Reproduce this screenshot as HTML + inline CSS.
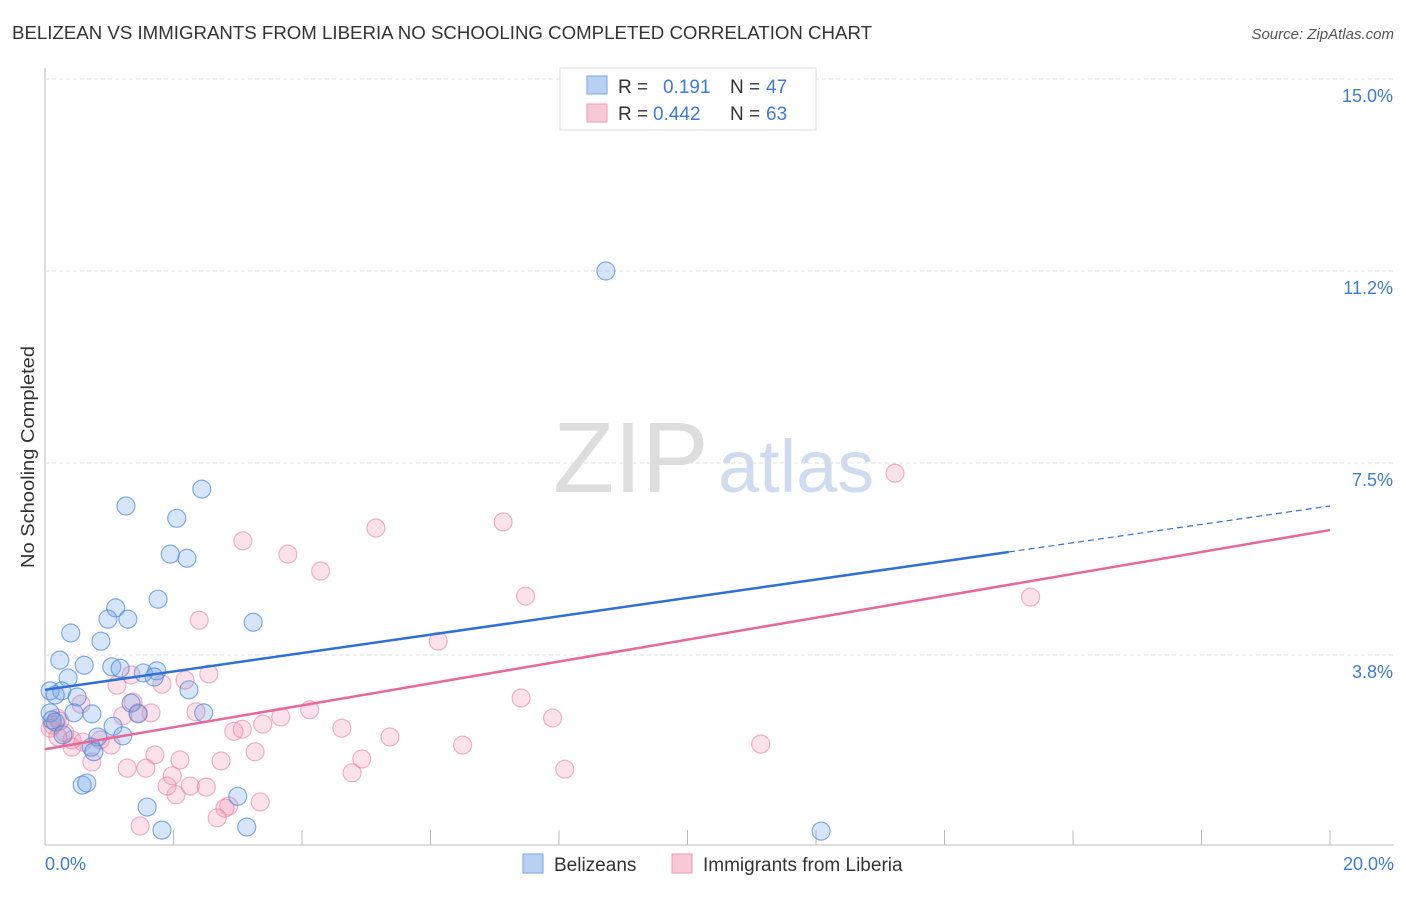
<!DOCTYPE html>
<html><head><meta charset="utf-8"><style>
body{margin:0;background:#fff;font-family:"Liberation Sans",sans-serif}
svg text{font-family:"Liberation Sans",sans-serif}
</style></head><body>
<svg id="c" width="1406" height="892">
<text x="12" y="39" font-size="18.5" fill="#333" textLength="860" lengthAdjust="spacingAndGlyphs">BELIZEAN VS IMMIGRANTS FROM LIBERIA NO SCHOOLING COMPLETED CORRELATION CHART</text>
<text x="1394" y="39" font-size="15" fill="#555" font-style="italic" text-anchor="end">Source: ZipAtlas.com</text>
<text transform="translate(34,457) rotate(-90)" font-size="18" fill="#333" text-anchor="middle" textLength="222" lengthAdjust="spacingAndGlyphs">No Schooling Completed</text>
<g><text x="553" y="492" font-size="100" fill="#ddd" font-family="Liberation Serif">ZIP</text><text x="718" y="492" font-size="74" fill="#cfdcf0">atlas</text></g>
<g id="grid"></g><g id="pts"></g><g id="lines"></g>
<g>
<rect x="560" y="68" width="256" height="62" fill="#fff" stroke="#ddd"/>
<rect x="587" y="76" width="20" height="18" fill="#b8d1f3" stroke="#7aa6e3"/>
<rect x="587" y="104" width="20" height="18" fill="#f8c8d6" stroke="#ee9ab5"/>
<text x="618" y="93" font-size="19" fill="#333">R = </text><text x="663" y="93" font-size="19" fill="#3d7bd9">0.191</text>
<text x="730" y="93" font-size="19" fill="#333">N = </text><text x="766" y="93" font-size="19" fill="#3d7bd9">47</text>
<text x="618" y="120" font-size="19" fill="#333">R = </text><text x="653" y="120" font-size="19" fill="#3d7bd9">0.442</text>
<text x="730" y="120" font-size="19" fill="#333">N = </text><text x="766" y="120" font-size="19" fill="#3d7bd9">63</text>
</g>
<g>
<rect x="523" y="854" width="20" height="19" fill="#b8d1f3" stroke="#7aa6e3"/>
<text x="554" y="871" font-size="19" fill="#333">Belizeans</text>
<rect x="672" y="854" width="20" height="19" fill="#f8c8d6" stroke="#ee9ab5"/>
<text x="703" y="871" font-size="19" fill="#333">Immigrants from Liberia</text>
</g>
</svg>
<script>
const blueX=[8.73,1.26,2.44,2.05,1.95,2.21,1.76,1.10,0.98,1.29,3.24,0.40,0.87,0.23,0.61,1.04,1.17,1.53,1.74,1.70,0.36,0.08,0.26,0.50,2.24,0.16,1.34,1.45,2.47,0.73,0.45,0.08,0.11,0.16,1.06,1.21,0.82,0.72,0.76,0.28,0.58,0.65,1.59,3.00,1.82,3.14,12.08];
const blueY=[11.25,6.66,6.99,6.42,5.72,5.64,4.84,4.67,4.45,4.45,4.39,4.18,4.02,3.65,3.55,3.52,3.49,3.40,3.44,3.32,3.30,3.05,3.05,2.93,3.07,2.97,2.81,2.60,2.62,2.60,2.62,2.62,2.48,2.44,2.36,2.17,2.15,1.95,1.86,2.19,1.21,1.25,0.78,0.99,0.33,0.39,0.31];
const pinkX=[13.23,7.13,5.15,3.08,3.78,4.29,7.48,15.34,2.40,6.12,2.55,1.34,2.18,1.82,1.12,7.41,1.37,4.12,3.67,7.90,2.35,1.65,1.45,1.21,0.56,0.19,0.23,3.07,2.94,3.39,4.62,5.37,0.08,0.20,0.42,0.59,0.86,1.03,3.27,1.71,11.14,6.50,2.10,2.74,4.93,0.73,1.28,1.57,1.98,4.78,8.09,1.90,2.26,2.51,2.04,2.86,3.35,2.80,1.48,2.68,0.42,0.31,0.12];
const pinkY=[7.30,6.35,6.23,5.98,5.72,5.39,4.90,4.88,4.43,4.02,3.38,3.36,3.26,3.18,3.16,2.91,2.83,2.68,2.54,2.52,2.64,2.62,2.62,2.56,2.79,2.52,2.46,2.30,2.26,2.40,2.32,2.15,2.32,2.15,2.09,2.05,2.09,1.99,1.86,1.80,2.01,1.99,1.70,1.68,1.72,1.66,1.54,1.54,1.39,1.45,1.52,1.19,1.19,1.17,1.02,0.80,0.88,0.76,0.41,0.57,1.95,2.23,2.38];
const yTicks=[3.75,7.5,11.25,15];
const yTickLabels=["3.8%","7.5%","11.2%","15.0%"];
const xTickLabels=["0.0%","20.0%"];
const blueFit=[3.07,6.66];
const pinkFit=[1.91,6.19];
const NS='http://www.w3.org/2000/svg';
const X=v=>45+v/20*1285, Y=v=>847-v/3.75*192;
function mk(tag,attrs,parent){const e=document.createElementNS(NS,tag);for(const k in attrs)e.setAttribute(k,attrs[k]);parent.appendChild(e);return e;}
const grid=document.getElementById('grid');
let ax=mk('line',{x1:45,y1:68,x2:45,y2:845,stroke:'#bbb'},grid);


let bx=mk('line',{x1:45,y1:845,x2:1394,y2:845,stroke:'#bbb'},grid);


yTicks.forEach((t,i)=>{
 const g=mk('line',{x1:45,y1:Y(t),x2:1394,y2:Y(t),stroke:'#ddd','stroke-dasharray':'4,3'},grid);
 
 
 const l=mk('text',{x:1393,y:Y(t)+23,'font-size':18,fill:'#3d7bd9','text-anchor':'end'},grid);l.textContent=yTickLabels[i];
 
 
});
for(let k=1;k<=10;k++){const t=mk('line',{x1:X(k*2),y1:830,x2:X(k*2),y2:845,stroke:'#bbb'},grid);
 
 }
[[0,'start',45],[20,'end',1394]].forEach((a,i)=>{const l=mk('text',{x:a[2],y:870,'font-size':18,fill:'#3d7bd9','text-anchor':a[1]},grid);l.textContent=xTickLabels[i];
 
 });
const pts=document.getElementById('pts');
pinkX.forEach((x,i)=>{const c=mk('circle',{cx:X(x),cy:Y(pinkY[i]),r:9,fill:'rgba(240,140,170,0.25)',stroke:'rgba(230,120,155,0.55)','stroke-width':1.2},pts);
 
 });
blueX.forEach((x,i)=>{const c=mk('circle',{cx:X(x),cy:Y(blueY[i]),r:9,fill:'rgba(110,160,230,0.28)',stroke:'rgba(70,130,215,0.65)','stroke-width':1.2},pts);
 
 });
const lines=document.getElementById('lines');
const bf=x=>blueFit[0]+(blueFit[1]-blueFit[0])*x/20, pf=x=>pinkFit[0]+(pinkFit[1]-pinkFit[0])*x/20;
let b1=mk('line',{x1:X(0),y1:Y(bf(0)),x2:X(15),y2:Y(bf(15)),stroke:'#2f6fd6','stroke-width':2.5},lines);


let b2=mk('line',{x1:X(15),y1:Y(bf(15)),x2:X(20),y2:Y(bf(20)),stroke:'#2f6fd6','stroke-width':1.2,'stroke-dasharray':'6,4'},lines);


let p1=mk('line',{x1:X(0),y1:Y(pf(0)),x2:X(20),y2:Y(pf(20)),stroke:'#e8689a','stroke-width':2.5},lines);


</script>
</body></html>
